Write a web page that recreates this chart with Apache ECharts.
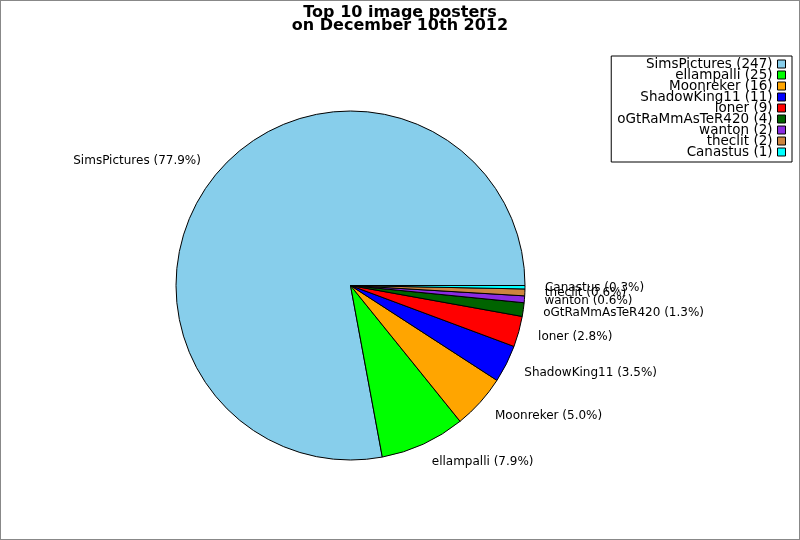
<!DOCTYPE html>
<html>
<head>
<meta charset="utf-8">
<script src="https://cdn.jsdelivr.net/npm/echarts@6/dist/echarts.min.js"></script>
<style>
  html, body { margin: 0; padding: 0; background: #fff; }
  #main { width: 800px; height: 540px; box-sizing: border-box; border: 1px solid #888; }
</style>
</head>
<body>
<div id="main"></div>
<script>
var names = ['SimsPictures', 'ellampalli', 'Moonreker', 'ShadowKing11', 'loner',
             'oGtRaMmAsTeR420', 'wanton', 'theclit', 'Canastus'];
var counts = [247, 25, 16, 11, 9, 4, 2, 2, 1];
var colors = ['#87ceeb', '#00ff00', '#ffa500', '#0000ff', '#ff0000',
              '#006400', '#8a2be2', '#cd853f', '#00ffff'];

var total = counts.reduce(function(a, b) { return a + b; }, 0);
var countOf = {};
var pieData = names.map(function(n, i) {
  countOf[n] = counts[i];
  return { name: n, value: counts[i], itemStyle: { color: colors[i] } };
});

var myChart = echarts.init(document.getElementById('main'));

var option = {
  animation: false,
  textStyle: { fontFamily: 'DejaVu Sans' },
  title: {
    text: 'Top 10 image posters\non December 10th 2012',
    left: 'center',
    top: 5,
    padding: 0,
    textStyle: { fontFamily: 'DejaVu Sans', fontSize: 16, fontWeight: 'bold', color: '#000', lineHeight: 13 }
  },
  legend: {
    orient: 'vertical',
    right: 7,
    top: 55,
    align: 'right',
    itemWidth: 8,
    itemHeight: 8,
    itemGap: -3,
    padding: [1, 6, 3, 6],
    borderColor: '#000',
    borderWidth: 1,
    borderRadius: 0,
    icon: 'rect',
    itemStyle: { borderColor: '#000', borderWidth: 1 },
    textStyle: { fontFamily: 'DejaVu Sans', fontSize: 13.5, color: '#000' },
    formatter: function(n) { return n + ' (' + countOf[n] + ')'; },
    data: names
  },
  series: [{
    type: 'pie',
    center: [349.5, 284.5],
    radius: 174.5,
    startAngle: 0,
    clockwise: false,
    avoidLabelOverlap: false,
    labelLayout: { hideOverlap: false },
    minShowLabelAngle: 0,
    itemStyle: { borderColor: '#000', borderWidth: 1 },
    label: {
      show: true,
      position: 'outside',
      distanceToLabelLine: 0,
      fontFamily: 'DejaVu Sans',
      fontSize: 12,
      color: '#000',
      formatter: function(p) {
        return p.name + ' (' + (p.value / total * 100).toFixed(1) + '%)';
      }
    },
    labelLine: { show: false, length: 20, length2: 0 },
    emphasis: { disabled: true },
    data: pieData
  }]
};

myChart.setOption(option);
</script>
</body>
</html>
